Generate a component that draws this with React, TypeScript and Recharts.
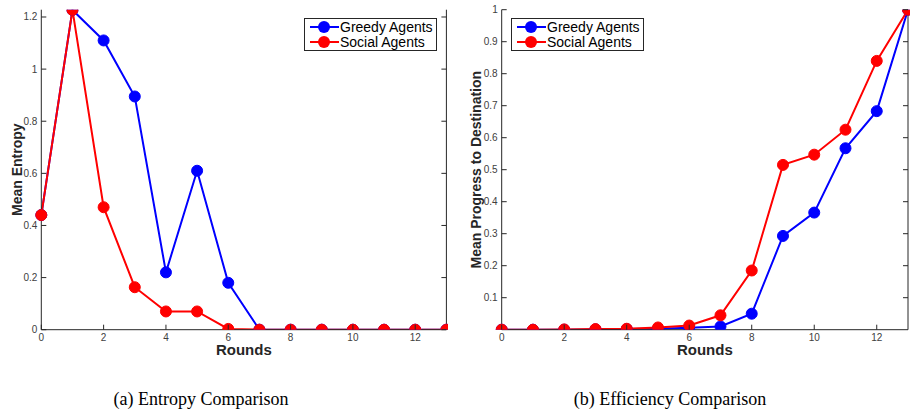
import React from 'react';
import { LineChart, Line, XAxis, YAxis, Legend } from 'recharts';

const rounds = [0, 1, 2, 3, 4, 5, 6, 7, 8, 9, 10, 11, 12, 13];

const greedyEntropy = [0.44, 1.227, 1.11, 0.895, 0.22, 0.61, 0.18, 0, 0, 0, 0, 0, 0, 0];
const socialEntropy = [0.44, 1.227, 0.47, 0.163, 0.07, 0.07, 0.003, 0, 0, 0, 0, 0, 0, 0];

const greedyProgress = [0, 0, 0, 0.001, 0.002, 0.003, 0.006, 0.01, 0.05, 0.293, 0.366, 0.567, 0.683, 1.0];
const socialProgress = [0, 0, 0.001, 0.002, 0.003, 0.007, 0.013, 0.045, 0.185, 0.515, 0.547, 0.625, 0.84, 1.0];

const roundTicks = [0, 2, 4, 6, 8, 10, 12];
const entropyTicks = [0, 0.2, 0.4, 0.6, 0.8, 1, 1.2];
const progressTicks = [0.1, 0.2, 0.3, 0.4, 0.5, 0.6, 0.7, 0.8, 0.9, 1];

const seriesNames = ['Greedy Agents', 'Social Agents'];
const seriesColors = ['#0000ff', '#ff0000'];

const entropyData = rounds.map((r, i) => ({ round: r, greedy: greedyEntropy[i], social: socialEntropy[i] }));
const progressData = rounds.map((r, i) => ({ round: r, greedy: greedyProgress[i], social: socialProgress[i] }));

const AXIS = '#262626';
const TICK_TEXT = '#404040';
const SANS = '"Liberation Sans", Arial, Helvetica, sans-serif';
const TICK_LEN = 5;

// tick marks point inwards, like matlab
const LeftTick = (props: any) => {
  const { x, y, payload } = props;
  return (
    <g>
      <line x1={x} y1={y} x2={x + TICK_LEN} y2={y} stroke={AXIS} strokeWidth={1} />
      <text x={x - 4} y={y} dy={3.5} textAnchor="end" fontSize={10} fontFamily={SANS} fill={TICK_TEXT}>
        {payload.value}
      </text>
    </g>
  );
};

const RightTick = (props: any) => {
  const { x, y } = props;
  return <line x1={x} y1={y} x2={x - TICK_LEN} y2={y} stroke={AXIS} strokeWidth={1} />;
};

const BottomTick = (props: any) => {
  const { x, y, payload } = props;
  return (
    <g>
      <line x1={x} y1={y} x2={x} y2={y - TICK_LEN} stroke={AXIS} strokeWidth={1} />
      <text x={x} y={y + 11} textAnchor="middle" fontSize={10} fontFamily={SANS} fill={TICK_TEXT}>
        {payload.value}
      </text>
    </g>
  );
};

const TopTick = (props: any) => {
  const { x, y } = props;
  return <line x1={x} y1={y} x2={x} y2={y + TICK_LEN} stroke={AXIS} strokeWidth={1} />;
};

const LegendBox = () => (
  <div
    style={{
      background: '#fff',
      border: `1px solid ${AXIS}`,
      padding: '1px 3px 1px 4px',
      fontFamily: SANS,
      fontSize: 14,
      lineHeight: '14.5px',
      color: '#000',
      whiteSpace: 'nowrap',
      width: 'max-content',
    }}
  >
    {seriesNames.map((name, i) => (
      <div key={name} style={{ display: 'flex', alignItems: 'center' }}>
        <svg width={30} height={14} style={{ marginRight: 1 }}>
          <line x1={1} y1={7} x2={30} y2={7} stroke={seriesColors[i]} strokeWidth={2} />
          <circle cx={15} cy={7} r={6} fill={seriesColors[i]} />
        </svg>
        <span>{name}</span>
      </div>
    ))}
  </div>
);

interface PanelProps {
  data: any[];
  yDomain: [number, number];
  yTicks: number[];
  yLabel: string;
  yAxisWidth: number;
  labelDx: number;
  legendPos: { left: number; top: number };
  width: number;
}

const Panel: React.FC<PanelProps> = ({ data, yDomain, yTicks, yLabel, yAxisWidth, labelDx, legendPos, width }) => (
  <LineChart width={width} height={360} data={data} margin={{ top: 9.7, right: 0, left: 0, bottom: 0.3 }}>
    <XAxis
      xAxisId="b"
      dataKey="round"
      type="number"
      domain={[0, 13]}
      ticks={roundTicks}
      height={30}
      tickSize={0}
      tickMargin={0}
      tick={<BottomTick />}
      axisLine={{ stroke: AXIS }}
      label={{ value: 'Rounds', position: 'center', dy: 5, fontSize: 15, fontWeight: 'bold', fontFamily: SANS, fill: '#262626' }}
    />
    <XAxis
      xAxisId="t"
      orientation="top"
      dataKey="round"
      type="number"
      domain={[0, 13]}
      ticks={roundTicks}
      height={0}
      tickSize={0}
      tickMargin={0}
      tick={<TopTick />}
      axisLine={{ stroke: AXIS }}
    />
    <YAxis
      yAxisId="l"
      type="number"
      domain={yDomain}
      ticks={yTicks}
      width={yAxisWidth}
      tickSize={0}
      tickMargin={0}
      tick={<LeftTick />}
      axisLine={{ stroke: AXIS }}
      allowDataOverflow
      label={{ value: yLabel, angle: -90, position: 'center', dx: labelDx, fontSize: 14, fontWeight: 'bold', fontFamily: SANS, fill: '#262626' }}
    />
    <YAxis
      yAxisId="r"
      orientation="right"
      type="number"
      domain={yDomain}
      ticks={yTicks}
      width={2}
      tickSize={0}
      tickMargin={0}
      tick={<RightTick />}
      axisLine={{ stroke: AXIS }}
      allowDataOverflow
    />
    <Legend
      layout="vertical"
      align="center"
      verticalAlign="middle"
      content={<LegendBox />}
      wrapperStyle={{ left: legendPos.left, top: legendPos.top, width: 'auto' }}
    />
    <Line
      xAxisId="b"
      yAxisId="l"
      dataKey="greedy"
      name={seriesNames[0]}
      stroke={seriesColors[0]}
      strokeWidth={2}
      dot={{ r: 5.5, fill: seriesColors[0], stroke: seriesColors[0], strokeWidth: 1 }}
      isAnimationActive={false}
    />
    <Line
      xAxisId="b"
      yAxisId="l"
      dataKey="social"
      name={seriesNames[1]}
      stroke={seriesColors[1]}
      strokeWidth={2}
      dot={{ r: 5.5, fill: seriesColors[1], stroke: seriesColors[1], strokeWidth: 1 }}
      isAnimationActive={false}
    />
  </LineChart>
);

const captionStyle: React.CSSProperties = {
  position: 'absolute',
  top: 389,
  fontFamily: '"Liberation Serif", "Times New Roman", serif',
  fontSize: 18,
  color: '#000',
  whiteSpace: 'nowrap',
  transform: 'translateX(-50%)',
};

export default function App() {
  return (
    <div style={{ position: 'absolute', left: 0, top: 0, width: 910, height: 420, background: '#fff' }}>
      <div style={{ position: 'absolute', left: 0, top: 0 }}>
        <Panel
          data={entropyData}
          yDomain={[0, 1.228]}
          yTicks={entropyTicks}
          yLabel="Mean Entropy"
          yAxisWidth={41.3}
          labelDx={-4}
          legendPos={{ left: 304, top: 18 }}
          width={448.4}
        />
      </div>
      <div style={{ position: 'absolute', left: 455, top: 0 }}>
        <Panel
          data={progressData}
          yDomain={[0, 1]}
          yTicks={progressTicks}
          yLabel="Mean Progress to Destination"
          yAxisWidth={46.7}
          labelDx={-2}
          legendPos={{ left: 56, top: 18 }}
          width={455}
        />
      </div>
      <div style={{ ...captionStyle, left: 201 }}>(a) Entropy Comparison</div>
      <div style={{ ...captionStyle, left: 670 }}>(b) Efficiency Comparison</div>
    </div>
  );
}
